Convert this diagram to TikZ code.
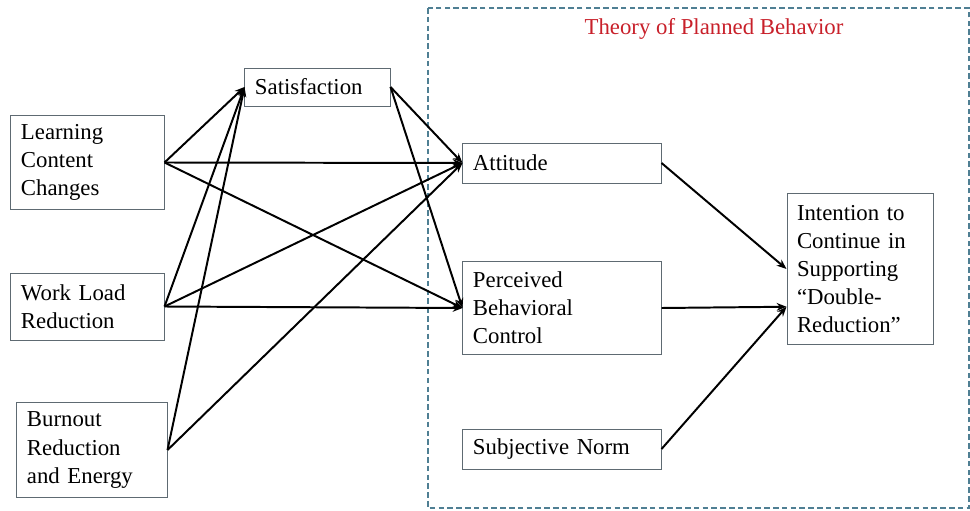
\documentclass[tikz,border=0pt]{standalone}
\usepackage{fontspec}
\setmainfont{Liberation Serif}
\usepackage{xcolor}
\usetikzlibrary{arrows.meta,calc,positioning}
\definecolor{colorBOX}{HTML}{5E6A72}
\definecolor{colorTPB}{HTML}{4F7F93}
\definecolor{colorTITLE}{HTML}{C8202A}
\tikzset{
   every path/.style={>={Stealth[length=7pt,width=5.5pt]}},
   box/.style={rectangle, draw=colorBOX, line width=0.7pt, inner xsep=0.25cm, inner ysep=2pt,
               align=left, font=\fontsize{16.2}{20}\selectfont},
   link/.style={->, draw=black, line width=1.4pt},
   tpb/.style={draw=colorTPB, line width=1.1pt, dash pattern=on 0.14cm off 0.08cm},
}

\begin{document}
\begin{tikzpicture}[x=0.025cm, y=-0.025cm]
  \useasboundingbox (0,0) rectangle (970,511);

  % frame of the theory
  \draw [tpb] (428,8) rectangle (969,508);
  \node [font=\fontsize{16.2}{20}\selectfont, text=colorTITLE] (tpbtitle) at (714,29) {Theory of Planned Behavior};

  \node [box, minimum width=3.825cm, minimum height=2.325cm, text width=3.325cm] (lcc) at (87.5,162.5) {Learning\\ Content\\ Changes};
  \node [box, minimum width=3.825cm, minimum height=1.675cm, text width=3.325cm] (wlr) at (87.5,306.5) {Work Load\\ Reduction};
  \node [box, minimum width=3.75cm, minimum height=2.35cm, text width=3.25cm] (bre) at (92,450) {Burnout\\ Reduction\\ and Energy};
  \node [box, minimum width=3.625cm, minimum height=0.95cm, text width=3.125cm] (sat) at (317.5,87) {Satisfaction};

  \node [box, minimum width=4.95cm, minimum height=1cm, text width=4.45cm] (att) at (562,163) {Attitude};
  \node [box, minimum width=4.95cm, minimum height=2.3cm, text width=4.45cm] (pbc) at (562,308) {Perceived\\ Behavioral\\ Control};
  \node [box, minimum width=4.95cm, minimum height=1cm, text width=4.45cm] (sn) at (562,449) {Subjective Norm};
  \node [box, minimum width=3.65cm, minimum height=3.75cm, text width=3.15cm] (int) at (860,269) {Intention to\\ Continue in\\ Supporting\\ “Double-\\ Reduction”};
  \coordinate (intlow) at ($(int.west)!0.5!(int.south west)$);

  \begin{scope}[link]
   \draw (lcc.east) to (sat.west);
   \draw (lcc.east) to (att.west);
   \draw (lcc.east) to (pbc.west);
   \draw (wlr.east) to (sat.west);
   \draw (wlr.east) to (att.west);
   \draw (wlr.east) to (pbc.west);
   \draw (bre.east) to (sat.west);
   \draw (bre.east) to (att.west);
   \draw (sat.east) to (att.west);
   \draw (sat.east) to (pbc.west);
   \draw (att.east) to (int.west);
   \draw (pbc.east) to (intlow);
   \draw (sn.east) to (intlow);
  \end{scope}
\end{tikzpicture}
\end{document}
